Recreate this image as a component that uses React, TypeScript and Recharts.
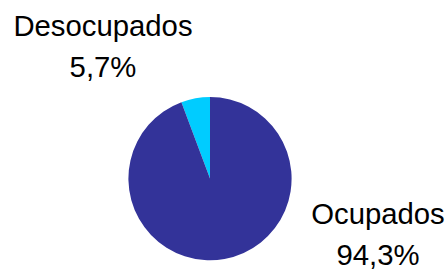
import { PieChart, Pie, Cell } from "recharts"

const categories = ["Desocupados", "Ocupados"]
const values = [5.7, 94.3]
const valueLabels = ["5,7%", "94,3%"]
const colors = ["#00CCFF", "#333399"]

// label placement relative to the pie centre (dx, dy of first baseline)
const labelOffsets = [
  { dx: -107, dy: -143 },
  { dx: 168, dy: 45 },
]

const data = categories.map((name, i) => ({ name, value: values[i], label: valueLabels[i] }))

const renderLabel = (props: any) => {
  const { cx, cy, index } = props
  const off = labelOffsets[index]
  const x = cx + off.dx
  const y = cy + off.dy
  return (
    <g>
      <text x={x} y={y} textAnchor="middle" fill="#000" fontSize={29.3} fontFamily="Liberation Sans, Arial, sans-serif">
        {data[index].name}
      </text>
      <text x={x} y={y + 41} textAnchor="middle" fill="#000" fontSize={29.3} fontFamily="Liberation Sans, Arial, sans-serif">
        {data[index].label}
      </text>
    </g>
  )
}

export default function App() {
  return (
    <div style={{ position: "fixed", left: 0, top: 0, width: 448, height: 271, background: "#fff" }}>
      <PieChart width={448} height={271} margin={{ top: 0, right: 0, bottom: 0, left: 0 }}>
        <Pie
          data={data}
          dataKey="value"
          cx={210}
          cy={178.6}
          outerRadius={81.6}
          startAngle={90}
          endAngle={450}
          stroke="none"
          label={renderLabel}
          labelLine={false}
          isAnimationActive={false}
        >
          {data.map((d, i) => (
            <Cell key={d.name} fill={colors[i]} />
          ))}
        </Pie>
      </PieChart>
    </div>
  )
}
